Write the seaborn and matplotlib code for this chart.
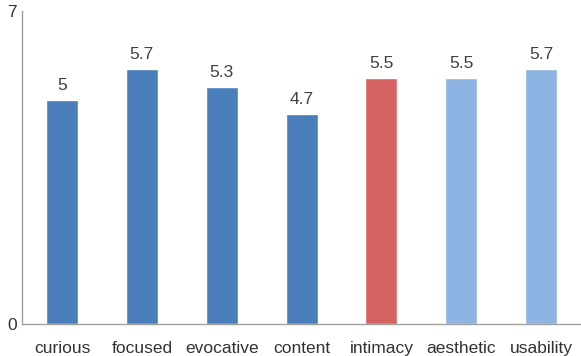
import matplotlib
matplotlib.use("Agg")
import matplotlib.pyplot as plt
import seaborn as sns
import pandas as pd

categories = ["curious", "focused", "evocative", "content", "intimacy", "aesthetic", "usability"]
values = [5.0, 5.7, 5.3, 4.7, 5.5, 5.5, 5.7]
value_labels = ["5", "5.7", "5.3", "4.7", "5.5", "5.5", "5.7"]
colors = ["#4A7EBB", "#4A7EBB", "#4A7EBB", "#4A7EBB", "#D46262", "#8DB3E2", "#8DB3E2"]

sns.set_theme(style="white")
plt.rcParams['font.family'] = ['Liberation Sans', 'DejaVu Sans']

df = pd.DataFrame({"category": categories, "value": values})

fig = plt.figure(figsize=(5.81, 3.56), dpi=100)
ax = fig.add_axes([0.038, 0.09, 0.962, 0.88])
sns.barplot(data=df, x="category", y="value", hue="category", palette=colors,
            width=0.4, legend=False, ax=ax, saturation=1)

for i, (v, lab) in enumerate(zip(values, value_labels)):
    ax.text(i, v + 0.15, lab, ha="center", va="bottom", fontsize=12.5, color="#404040")

ax.set_ylim(0, 7)
ax.set_xlim(-0.5, 6.5)
ax.set_yticks([0, 7])
ax.set_yticklabels(["0", "7"])
ax.set_xlabel("")
ax.set_ylabel("")
ax.tick_params(axis="both", length=0, labelsize=12.5, labelcolor="#333333")
ax.tick_params(axis="x", pad=12)
ax.tick_params(axis="y", pad=4)
for s in ["top", "right"]:
    ax.spines[s].set_visible(False)
for s in ["left", "bottom"]:
    ax.spines[s].set_color("#A0A0A0")
    ax.spines[s].set_linewidth(1.0)

fig.savefig("out.png", dpi=100)
